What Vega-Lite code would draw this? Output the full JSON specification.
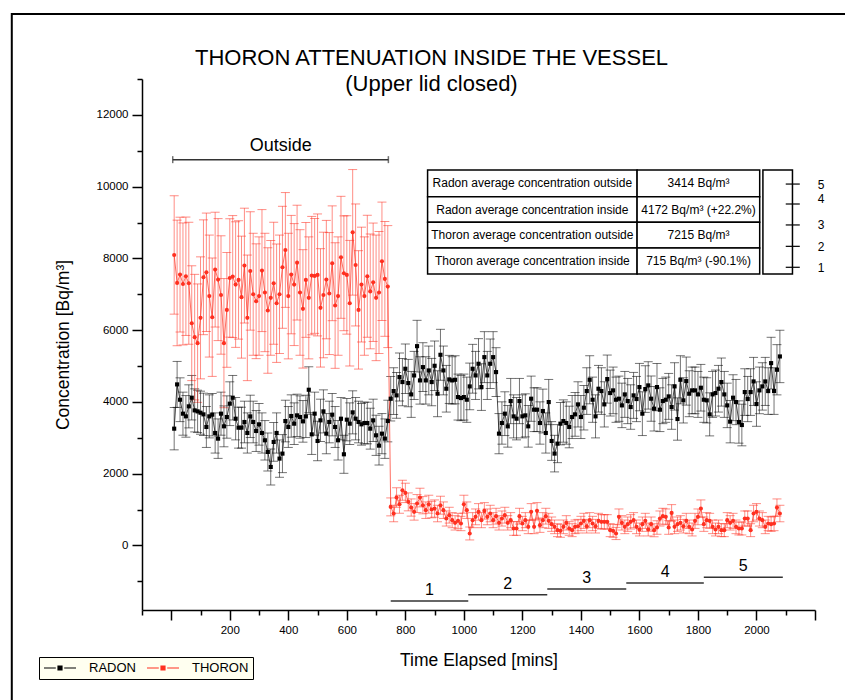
{
"$schema":"https://vega.github.io/schema/vega-lite/v6.json",
"width":673,"height":531,
"autosize":{"type":"none"},
"padding":{"left":142,"top":79,"right":30,"bottom":90},
"background":"white",
"config":{"view":{"stroke":null},
"font":"Liberation Sans",
"axis":{"domainColor":"black","domainWidth":1.5,"tickColor":"black","tickWidth":1.5,"labelFont":"Liberation Sans","labelFontSize":11.5,"labelColor":"black","titleFont":"Liberation Sans","titleFontSize":17.5,"titleFontWeight":"normal","titleColor":"black","grid":false}},
"title":{"text":"THORON ATTENUATION INSIDE THE VESSEL","subtitle":"\u00a0\u00a0\u00a0\u00a0\u00a0\u00a0\u00a0\u00a0(Upper lid closed)","anchor":"middle","frame":"group","dx":-47,"offset":-83,"fontSize":22,"subtitleFontSize":22,"font":"Liberation Sans","subtitleFont":"Liberation Sans","fontWeight":"normal","color":"black","subtitleColor":"black","subtitlePadding":4},
"resolve":{"axis":{"x":"independent","y":"independent"}},
"datasets":{
"series":[
{"t":10,"s":"RADON","v":3254,"e":590},{"t":20,"s":"RADON","v":4488,"e":640},{"t":30,"s":"RADON","v":4061,"e":610},{"t":40,"s":"RADON","v":3672,"e":600},{"t":50,"s":"RADON","v":3597,"e":580},{"t":60,"s":"RADON","v":3876,"e":600},{"t":70,"s":"RADON","v":4117,"e":620},{"t":80,"s":"RADON","v":3764,"e":600},{"t":90,"s":"RADON","v":3736,"e":590},{"t":100,"s":"RADON","v":3699,"e":600},
{"t":110,"s":"RADON","v":3653,"e":590},{"t":120,"s":"RADON","v":3301,"e":570},{"t":130,"s":"RADON","v":3597,"e":600},{"t":140,"s":"RADON","v":3644,"e":590},{"t":150,"s":"RADON","v":3134,"e":560},{"t":160,"s":"RADON","v":2976,"e":550},{"t":170,"s":"RADON","v":3672,"e":600},{"t":180,"s":"RADON","v":3319,"e":570},{"t":190,"s":"RADON","v":3579,"e":590},{"t":200,"s":"RADON","v":3950,"e":610},
{"t":210,"s":"RADON","v":4117,"e":620},{"t":220,"s":"RADON","v":3532,"e":590},{"t":230,"s":"RADON","v":3282,"e":570},{"t":240,"s":"RADON","v":3282,"e":570},{"t":250,"s":"RADON","v":3440,"e":580},{"t":260,"s":"RADON","v":3134,"e":560},{"t":270,"s":"RADON","v":3597,"e":590},{"t":280,"s":"RADON","v":3440,"e":580},{"t":290,"s":"RADON","v":3189,"e":570},{"t":300,"s":"RADON","v":3375,"e":580},
{"t":310,"s":"RADON","v":3134,"e":560},{"t":320,"s":"RADON","v":2930,"e":550},{"t":330,"s":"RADON","v":2605,"e":530},{"t":340,"s":"RADON","v":2187,"e":500},{"t":350,"s":"RADON","v":2883,"e":540},{"t":360,"s":"RADON","v":3134,"e":560},{"t":370,"s":"RADON","v":2419,"e":520},{"t":380,"s":"RADON","v":2559,"e":530},{"t":390,"s":"RADON","v":3467,"e":580},{"t":400,"s":"RADON","v":3301,"e":570},
{"t":410,"s":"RADON","v":3607,"e":590},{"t":420,"s":"RADON","v":3393,"e":580},{"t":430,"s":"RADON","v":3625,"e":590},{"t":440,"s":"RADON","v":3579,"e":590},{"t":450,"s":"RADON","v":3458,"e":580},{"t":460,"s":"RADON","v":3597,"e":590},{"t":470,"s":"RADON","v":4339,"e":640},{"t":480,"s":"RADON","v":3096,"e":560},{"t":490,"s":"RADON","v":3672,"e":600},{"t":500,"s":"RADON","v":2911,"e":550},
{"t":510,"s":"RADON","v":3486,"e":590},{"t":520,"s":"RADON","v":3736,"e":600},{"t":530,"s":"RADON","v":3115,"e":560},{"t":540,"s":"RADON","v":3440,"e":580},{"t":550,"s":"RADON","v":3644,"e":590},{"t":560,"s":"RADON","v":3301,"e":570},{"t":570,"s":"RADON","v":2930,"e":550},{"t":580,"s":"RADON","v":3532,"e":590},{"t":590,"s":"RADON","v":2540,"e":530},{"t":600,"s":"RADON","v":3505,"e":590},
{"t":610,"s":"RADON","v":3393,"e":580},{"t":620,"s":"RADON","v":3709,"e":600},{"t":630,"s":"RADON","v":3532,"e":590},{"t":640,"s":"RADON","v":3440,"e":580},{"t":650,"s":"RADON","v":3375,"e":580},{"t":660,"s":"RADON","v":3412,"e":580},{"t":670,"s":"RADON","v":3412,"e":580},{"t":680,"s":"RADON","v":3254,"e":570},{"t":690,"s":"RADON","v":3486,"e":590},{"t":700,"s":"RADON","v":3069,"e":560},
{"t":710,"s":"RADON","v":2781,"e":540},{"t":720,"s":"RADON","v":3115,"e":560},{"t":730,"s":"RADON","v":2976,"e":550},{"t":740,"s":"RADON","v":3467,"e":580},
{"t":750,"s":"RADON","v":4089,"e":620},{"t":760,"s":"RADON","v":4302,"e":650},{"t":770,"s":"RADON","v":4182,"e":640},{"t":780,"s":"RADON","v":4692,"e":670},{"t":790,"s":"RADON","v":4553,"e":660},{"t":800,"s":"RADON","v":4924,"e":690},{"t":810,"s":"RADON","v":4525,"e":660},{"t":820,"s":"RADON","v":4209,"e":640},{"t":830,"s":"RADON","v":4738,"e":670},{"t":840,"s":"RADON","v":5554,"e":720},
{"t":850,"s":"RADON","v":4599,"e":660},{"t":860,"s":"RADON","v":4970,"e":680},{"t":870,"s":"RADON","v":4599,"e":660},{"t":880,"s":"RADON","v":4877,"e":680},{"t":890,"s":"RADON","v":4553,"e":660},{"t":900,"s":"RADON","v":5007,"e":690},{"t":910,"s":"RADON","v":4228,"e":640},{"t":920,"s":"RADON","v":5313,"e":710},{"t":930,"s":"RADON","v":4877,"e":680},{"t":940,"s":"RADON","v":4367,"e":650},
{"t":950,"s":"RADON","v":4627,"e":670},{"t":960,"s":"RADON","v":4599,"e":660},{"t":970,"s":"RADON","v":4617,"e":670},{"t":980,"s":"RADON","v":4135,"e":640},{"t":990,"s":"RADON","v":4107,"e":630},{"t":1000,"s":"RADON","v":4135,"e":640},{"t":1010,"s":"RADON","v":4061,"e":630},{"t":1020,"s":"RADON","v":4432,"e":650},{"t":1030,"s":"RADON","v":4924,"e":680},{"t":1040,"s":"RADON","v":4738,"e":670},
{"t":1050,"s":"RADON","v":5063,"e":700},{"t":1060,"s":"RADON","v":4413,"e":650},{"t":1070,"s":"RADON","v":5248,"e":710},{"t":1080,"s":"RADON","v":4738,"e":670},{"t":1090,"s":"RADON","v":5063,"e":690},{"t":1100,"s":"RADON","v":5248,"e":710},{"t":1110,"s":"RADON","v":4831,"e":680},
{"t":1120,"s":"RADON","v":3115,"e":560},{"t":1130,"s":"RADON","v":3412,"e":590},{"t":1140,"s":"RADON","v":3672,"e":610},{"t":1150,"s":"RADON","v":3319,"e":580},{"t":1160,"s":"RADON","v":4024,"e":630},{"t":1170,"s":"RADON","v":3597,"e":600},{"t":1180,"s":"RADON","v":3532,"e":590},{"t":1190,"s":"RADON","v":4024,"e":630},{"t":1200,"s":"RADON","v":3597,"e":600},{"t":1210,"s":"RADON","v":3625,"e":600},
{"t":1220,"s":"RADON","v":3319,"e":580},{"t":1230,"s":"RADON","v":4089,"e":630},{"t":1240,"s":"RADON","v":3783,"e":610},{"t":1250,"s":"RADON","v":3783,"e":610},{"t":1260,"s":"RADON","v":3412,"e":590},{"t":1270,"s":"RADON","v":3746,"e":610},{"t":1280,"s":"RADON","v":3134,"e":560},{"t":1290,"s":"RADON","v":3996,"e":630},{"t":1300,"s":"RADON","v":2911,"e":540},{"t":1310,"s":"RADON","v":2559,"e":510},
{"t":1320,"s":"RADON","v":2837,"e":530},{"t":1330,"s":"RADON","v":3393,"e":590},{"t":1340,"s":"RADON","v":3467,"e":590},{"t":1350,"s":"RADON","v":3412,"e":590},{"t":1360,"s":"RADON","v":3301,"e":580},{"t":1370,"s":"RADON","v":3579,"e":600},{"t":1380,"s":"RADON","v":3653,"e":610},{"t":1390,"s":"RADON","v":3931,"e":630},{"t":1400,"s":"RADON","v":3579,"e":600},{"t":1410,"s":"RADON","v":3838,"e":620},
{"t":1420,"s":"RADON","v":4302,"e":650},{"t":1430,"s":"RADON","v":4617,"e":670},{"t":1440,"s":"RADON","v":4061,"e":630},{"t":1450,"s":"RADON","v":3597,"e":600},{"t":1460,"s":"RADON","v":4367,"e":650},{"t":1470,"s":"RADON","v":4302,"e":650},{"t":1480,"s":"RADON","v":3931,"e":630},{"t":1490,"s":"RADON","v":4636,"e":670},{"t":1500,"s":"RADON","v":4247,"e":640},{"t":1510,"s":"RADON","v":4321,"e":650},
{"t":1520,"s":"RADON","v":4061,"e":630},{"t":1530,"s":"RADON","v":4089,"e":630},{"t":1540,"s":"RADON","v":3903,"e":620},{"t":1550,"s":"RADON","v":4209,"e":640},{"t":1560,"s":"RADON","v":4024,"e":630},{"t":1570,"s":"RADON","v":3857,"e":620},{"t":1580,"s":"RADON","v":4182,"e":640},{"t":1590,"s":"RADON","v":4080,"e":630},{"t":1600,"s":"RADON","v":4413,"e":660},{"t":1610,"s":"RADON","v":3672,"e":610},
{"t":1620,"s":"RADON","v":4358,"e":650},{"t":1630,"s":"RADON","v":4460,"e":660},{"t":1640,"s":"RADON","v":4089,"e":630},{"t":1650,"s":"RADON","v":3811,"e":620},{"t":1660,"s":"RADON","v":4413,"e":660},{"t":1670,"s":"RADON","v":3783,"e":610},{"t":1680,"s":"RADON","v":4024,"e":630},{"t":1690,"s":"RADON","v":4061,"e":630},{"t":1700,"s":"RADON","v":4154,"e":640},{"t":1710,"s":"RADON","v":3857,"e":620},
{"t":1720,"s":"RADON","v":4432,"e":660},{"t":1730,"s":"RADON","v":3523,"e":590},{"t":1740,"s":"RADON","v":4617,"e":670},{"t":1750,"s":"RADON","v":4043,"e":630},{"t":1760,"s":"RADON","v":4580,"e":670},{"t":1770,"s":"RADON","v":4228,"e":640},{"t":1780,"s":"RADON","v":4321,"e":650},{"t":1790,"s":"RADON","v":4321,"e":650},{"t":1800,"s":"RADON","v":4209,"e":640},{"t":1810,"s":"RADON","v":4395,"e":650},
{"t":1820,"s":"RADON","v":4061,"e":630},{"t":1830,"s":"RADON","v":4043,"e":630},{"t":1840,"s":"RADON","v":3653,"e":600},{"t":1850,"s":"RADON","v":4209,"e":640},{"t":1860,"s":"RADON","v":4247,"e":640},{"t":1870,"s":"RADON","v":4367,"e":650},{"t":1880,"s":"RADON","v":4553,"e":670},{"t":1890,"s":"RADON","v":4209,"e":640},{"t":1900,"s":"RADON","v":3903,"e":620},{"t":1910,"s":"RADON","v":3449,"e":590},
{"t":1920,"s":"RADON","v":4117,"e":640},{"t":1930,"s":"RADON","v":3996,"e":630},{"t":1940,"s":"RADON","v":3440,"e":590},{"t":1950,"s":"RADON","v":3356,"e":580},{"t":1960,"s":"RADON","v":4274,"e":650},{"t":1970,"s":"RADON","v":4080,"e":630},{"t":1980,"s":"RADON","v":4274,"e":650},{"t":1990,"s":"RADON","v":4571,"e":670},{"t":2000,"s":"RADON","v":3940,"e":620},{"t":2010,"s":"RADON","v":4321,"e":650},
{"t":2020,"s":"RADON","v":4432,"e":660},{"t":2030,"s":"RADON","v":4571,"e":670},{"t":2040,"s":"RADON","v":4302,"e":650},{"t":2050,"s":"RADON","v":5081,"e":720},{"t":2060,"s":"RADON","v":4302,"e":650},{"t":2070,"s":"RADON","v":4896,"e":700},{"t":2080,"s":"RADON","v":5267,"e":730},
{"t":10,"s":"THORON","v":8096,"e":1650},{"t":20,"s":"THORON","v":7316,"e":1750},{"t":30,"s":"THORON","v":7548,"e":1600},{"t":40,"s":"THORON","v":7288,"e":1700},{"t":50,"s":"THORON","v":7502,"e":1650},{"t":60,"s":"THORON","v":7307,"e":1700},{"t":70,"s":"THORON","v":6194,"e":1600},{"t":80,"s":"THORON","v":5805,"e":1750},{"t":90,"s":"THORON","v":5638,"e":1650},{"t":100,"s":"THORON","v":6343,"e":1700},
{"t":110,"s":"THORON","v":7474,"e":1600},{"t":120,"s":"THORON","v":7613,"e":1650},{"t":130,"s":"THORON","v":6950,"e":1700},{"t":140,"s":"THORON","v":6361,"e":1650},{"t":150,"s":"THORON","v":7687,"e":1600},{"t":160,"s":"THORON","v":7409,"e":1700},{"t":170,"s":"THORON","v":6980,"e":1650},{"t":180,"s":"THORON","v":5638,"e":1800},{"t":190,"s":"THORON","v":6565,"e":1600},{"t":200,"s":"THORON","v":7455,"e":1650},
{"t":210,"s":"THORON","v":7493,"e":1700},{"t":220,"s":"THORON","v":7270,"e":1750},{"t":230,"s":"THORON","v":7400,"e":1650},{"t":240,"s":"THORON","v":6920,"e":1700},{"t":250,"s":"THORON","v":7799,"e":1600},{"t":260,"s":"THORON","v":6343,"e":1750},{"t":270,"s":"THORON","v":7650,"e":1650},{"t":280,"s":"THORON","v":7000,"e":1700},{"t":290,"s":"THORON","v":6806,"e":1600},{"t":300,"s":"THORON","v":6950,"e":1650},
{"t":310,"s":"THORON","v":7660,"e":1700},{"t":320,"s":"THORON","v":7050,"e":1650},{"t":330,"s":"THORON","v":6547,"e":1750},{"t":340,"s":"THORON","v":6900,"e":1600},{"t":350,"s":"THORON","v":7307,"e":1700},{"t":360,"s":"THORON","v":6751,"e":1650},{"t":370,"s":"THORON","v":7000,"e":1650},{"t":380,"s":"THORON","v":7752,"e":1700},{"t":390,"s":"THORON","v":8235,"e":1600},{"t":400,"s":"THORON","v":6950,"e":1750},
{"t":410,"s":"THORON","v":7548,"e":1650},{"t":420,"s":"THORON","v":7270,"e":1700},{"t":430,"s":"THORON","v":7882,"e":1600},{"t":440,"s":"THORON","v":7050,"e":1750},{"t":450,"s":"THORON","v":6593,"e":1650},{"t":460,"s":"THORON","v":7400,"e":1600},{"t":470,"s":"THORON","v":6900,"e":1700},{"t":480,"s":"THORON","v":7520,"e":1650},{"t":490,"s":"THORON","v":7511,"e":1600},{"t":500,"s":"THORON","v":7539,"e":1700},
{"t":510,"s":"THORON","v":6621,"e":1650},{"t":520,"s":"THORON","v":6980,"e":1750},{"t":530,"s":"THORON","v":7409,"e":1650},{"t":540,"s":"THORON","v":7020,"e":1700},{"t":550,"s":"THORON","v":7864,"e":1600},{"t":560,"s":"THORON","v":6686,"e":1750},{"t":570,"s":"THORON","v":6950,"e":1650},{"t":580,"s":"THORON","v":8030,"e":1700},{"t":590,"s":"THORON","v":7585,"e":1600},{"t":600,"s":"THORON","v":7539,"e":1650},
{"t":610,"s":"THORON","v":6751,"e":1750},{"t":620,"s":"THORON","v":8726,"e":1750},{"t":630,"s":"THORON","v":7817,"e":1700},{"t":640,"s":"THORON","v":6565,"e":1650},{"t":650,"s":"THORON","v":7270,"e":1600},{"t":660,"s":"THORON","v":6950,"e":1650},{"t":670,"s":"THORON","v":7502,"e":1700},{"t":680,"s":"THORON","v":7080,"e":1600},{"t":690,"s":"THORON","v":7335,"e":1650},{"t":700,"s":"THORON","v":6900,"e":1750},
{"t":710,"s":"THORON","v":7050,"e":1700},{"t":720,"s":"THORON","v":7919,"e":1650},{"t":730,"s":"THORON","v":7428,"e":1600},{"t":740,"s":"THORON","v":7214,"e":1700},
{"t":750,"s":"THORON","v":1074,"e":250},{"t":760,"s":"THORON","v":889,"e":230},{"t":770,"s":"THORON","v":1334,"e":270},{"t":780,"s":"THORON","v":1149,"e":250},{"t":790,"s":"THORON","v":1538,"e":280},{"t":800,"s":"THORON","v":1464,"e":270},{"t":810,"s":"THORON","v":1214,"e":250},{"t":820,"s":"THORON","v":1056,"e":240},{"t":830,"s":"THORON","v":935,"e":230},{"t":840,"s":"THORON","v":1167,"e":250},
{"t":850,"s":"THORON","v":1334,"e":260},{"t":860,"s":"THORON","v":1121,"e":240},{"t":870,"s":"THORON","v":982,"e":230},{"t":880,"s":"THORON","v":1149,"e":250},{"t":890,"s":"THORON","v":1000,"e":230},{"t":900,"s":"THORON","v":1028,"e":240},{"t":910,"s":"THORON","v":889,"e":230},{"t":920,"s":"THORON","v":1121,"e":250},{"t":930,"s":"THORON","v":982,"e":230},{"t":940,"s":"THORON","v":750,"e":210},
{"t":950,"s":"THORON","v":843,"e":220},{"t":960,"s":"THORON","v":704,"e":210},{"t":970,"s":"THORON","v":629,"e":200},{"t":980,"s":"THORON","v":685,"e":210},{"t":990,"s":"THORON","v":611,"e":200},{"t":1000,"s":"THORON","v":1149,"e":250},{"t":1010,"s":"THORON","v":982,"e":230},{"t":1020,"s":"THORON","v":333,"e":180},{"t":1030,"s":"THORON","v":704,"e":210},{"t":1040,"s":"THORON","v":796,"e":220},
{"t":1050,"s":"THORON","v":935,"e":230},{"t":1060,"s":"THORON","v":704,"e":210},{"t":1070,"s":"THORON","v":963,"e":230},{"t":1080,"s":"THORON","v":796,"e":220},{"t":1090,"s":"THORON","v":889,"e":230},{"t":1100,"s":"THORON","v":704,"e":210},{"t":1110,"s":"THORON","v":815,"e":220},
{"t":1120,"s":"THORON","v":629,"e":200},{"t":1130,"s":"THORON","v":750,"e":210},{"t":1140,"s":"THORON","v":843,"e":220},{"t":1150,"s":"THORON","v":629,"e":200},{"t":1160,"s":"THORON","v":704,"e":210},{"t":1170,"s":"THORON","v":472,"e":190},{"t":1180,"s":"THORON","v":472,"e":190},{"t":1190,"s":"THORON","v":815,"e":220},{"t":1200,"s":"THORON","v":611,"e":200},{"t":1210,"s":"THORON","v":704,"e":210},
{"t":1220,"s":"THORON","v":518,"e":190},{"t":1230,"s":"THORON","v":935,"e":230},{"t":1240,"s":"THORON","v":518,"e":190},{"t":1250,"s":"THORON","v":963,"e":230},{"t":1260,"s":"THORON","v":564,"e":200},{"t":1270,"s":"THORON","v":704,"e":210},{"t":1280,"s":"THORON","v":815,"e":220},{"t":1290,"s":"THORON","v":685,"e":210},{"t":1300,"s":"THORON","v":592,"e":200},{"t":1310,"s":"THORON","v":518,"e":190},
{"t":1320,"s":"THORON","v":425,"e":180},{"t":1330,"s":"THORON","v":407,"e":180},{"t":1340,"s":"THORON","v":518,"e":190},{"t":1350,"s":"THORON","v":629,"e":200},{"t":1360,"s":"THORON","v":472,"e":190},{"t":1370,"s":"THORON","v":425,"e":180},{"t":1380,"s":"THORON","v":518,"e":190},{"t":1390,"s":"THORON","v":536,"e":190},{"t":1400,"s":"THORON","v":611,"e":200},{"t":1410,"s":"THORON","v":685,"e":210},
{"t":1420,"s":"THORON","v":536,"e":190},{"t":1430,"s":"THORON","v":704,"e":210},{"t":1440,"s":"THORON","v":611,"e":200},{"t":1450,"s":"THORON","v":536,"e":190},{"t":1460,"s":"THORON","v":685,"e":210},{"t":1470,"s":"THORON","v":657,"e":200},{"t":1480,"s":"THORON","v":657,"e":200},{"t":1490,"s":"THORON","v":657,"e":200},{"t":1500,"s":"THORON","v":425,"e":180},{"t":1510,"s":"THORON","v":407,"e":180},
{"t":1520,"s":"THORON","v":333,"e":170},{"t":1530,"s":"THORON","v":796,"e":220},{"t":1540,"s":"THORON","v":629,"e":200},{"t":1550,"s":"THORON","v":518,"e":190},{"t":1560,"s":"THORON","v":592,"e":200},{"t":1570,"s":"THORON","v":657,"e":200},{"t":1580,"s":"THORON","v":704,"e":210},{"t":1590,"s":"THORON","v":518,"e":190},{"t":1600,"s":"THORON","v":444,"e":180},{"t":1610,"s":"THORON","v":592,"e":200},
{"t":1620,"s":"THORON","v":685,"e":210},{"t":1630,"s":"THORON","v":444,"e":180},{"t":1640,"s":"THORON","v":592,"e":200},{"t":1650,"s":"THORON","v":425,"e":180},{"t":1660,"s":"THORON","v":500,"e":190},{"t":1670,"s":"THORON","v":750,"e":210},{"t":1680,"s":"THORON","v":815,"e":220},{"t":1690,"s":"THORON","v":796,"e":220},{"t":1700,"s":"THORON","v":500,"e":190},{"t":1710,"s":"THORON","v":907,"e":230},
{"t":1720,"s":"THORON","v":518,"e":190},{"t":1730,"s":"THORON","v":592,"e":200},{"t":1740,"s":"THORON","v":629,"e":200},{"t":1750,"s":"THORON","v":536,"e":190},{"t":1760,"s":"THORON","v":685,"e":210},{"t":1770,"s":"THORON","v":518,"e":190},{"t":1780,"s":"THORON","v":444,"e":180},{"t":1790,"s":"THORON","v":685,"e":210},{"t":1800,"s":"THORON","v":796,"e":220},{"t":1810,"s":"THORON","v":1028,"e":240},
{"t":1820,"s":"THORON","v":592,"e":200},{"t":1830,"s":"THORON","v":704,"e":210},{"t":1840,"s":"THORON","v":685,"e":210},{"t":1850,"s":"THORON","v":518,"e":190},{"t":1860,"s":"THORON","v":444,"e":180},{"t":1870,"s":"THORON","v":518,"e":190},{"t":1880,"s":"THORON","v":425,"e":180},{"t":1890,"s":"THORON","v":425,"e":180},{"t":1900,"s":"THORON","v":704,"e":210},{"t":1910,"s":"THORON","v":629,"e":200},
{"t":1920,"s":"THORON","v":685,"e":210},{"t":1930,"s":"THORON","v":518,"e":190},{"t":1940,"s":"THORON","v":472,"e":180},{"t":1950,"s":"THORON","v":472,"e":180},{"t":1960,"s":"THORON","v":750,"e":210},{"t":1970,"s":"THORON","v":750,"e":210},{"t":1980,"s":"THORON","v":425,"e":180},{"t":1990,"s":"THORON","v":889,"e":230},{"t":2000,"s":"THORON","v":935,"e":230},{"t":2010,"s":"THORON","v":750,"e":210},
{"t":2020,"s":"THORON","v":704,"e":210},{"t":2030,"s":"THORON","v":518,"e":190},{"t":2040,"s":"THORON","v":611,"e":200},{"t":2050,"s":"THORON","v":592,"e":200},{"t":2060,"s":"THORON","v":611,"e":200},{"t":2070,"s":"THORON","v":1056,"e":240},{"t":2080,"s":"THORON","v":889,"e":230}
],
"outside":[{"t":5,"y":10752,"label":"Outside","m":374},{"t":742,"y":10752,"label":"Outside","m":374}],
"segs":[{"n":"1","a":750,"b":1015,"m":882,"y":-1550},{"n":"2","a":1015,"b":1285,"m":1150,"y":-1375},{"n":"3","a":1285,"b":1555,"m":1420,"y":-1216},{"n":"4","a":1555,"b":1820,"m":1688,"y":-1049},{"n":"5","a":1820,"b":2090,"m":1955,"y":-890}],
"table":[
{"x1":876,"x2":1592,"y1":10462,"y2":9719,"cx":1234,"cy":10090,"txt":"Radon average concentration outside"},
{"x1":1592,"x2":2011,"y1":10462,"y2":9719,"cx":1802,"cy":10090,"txt":"3414 Bq/m³"},
{"x1":876,"x2":1592,"y1":9719,"y2":9004,"cx":1234,"cy":9362,"txt":"Radon average concentration inside"},
{"x1":1592,"x2":2011,"y1":9719,"y2":9004,"cx":1802,"cy":9362,"txt":"4172 Bq/m³ (+22.2%)"},
{"x1":876,"x2":1592,"y1":9004,"y2":8292,"cx":1234,"cy":8648,"txt":"Thoron average concentration outside"},
{"x1":1592,"x2":2011,"y1":9004,"y2":8292,"cx":1802,"cy":8648,"txt":"7215 Bq/m³"},
{"x1":876,"x2":1592,"y1":8292,"y2":7568,"cx":1234,"cy":7930,"txt":"Thoron average concentration inside"},
{"x1":1592,"x2":2011,"y1":8292,"y2":7568,"cx":1802,"cy":7930,"txt":"715 Bq/m³ (-90.1%)"}],
"mini":[{"x1":2022,"x2":2123,"y1":10462,"y2":7568}],
"miniTicks":[{"n":"5","a":2100,"b":2148,"y":10072,"ly":10033,"lx":2209},{"n":"4","a":2100,"b":2148,"y":9516,"ly":9663,"lx":2209},{"n":"3","a":2100,"b":2148,"y":8932,"ly":8940,"lx":2209},{"n":"2","a":2100,"b":2148,"y":8336,"ly":8328,"lx":2209},{"n":"1","a":2100,"b":2148,"y":7752,"ly":7743,"lx":2209}]
},
"layer":[
{"data":{"values":[{}]},"mark":{"type":"rect","filled":false,"stroke":"black","strokeWidth":2,"clip":false},
 "encoding":{"x":{"datum":-545,"type":"quantitative","scale":{"domain":[-100,2200],"nice":false,"zero":false},"axis":{"orient":"bottom","values":[-100,100,300,500,700,900,1100,1300,1500,1700,1900,2100],"tickSize":5,"labels":false,"domain":false,"title":null}},"x2":{"datum":2800},
 "y":{"datum":14811,"type":"quantitative","scale":{"domain":[-1800,13000],"nice":false,"zero":false},"axis":{"orient":"left","values":[-1000,1000,3000,5000,7000,9000,11000,13000],"tickSize":5,"labels":false,"domain":false,"title":null}},"y2":{"datum":-6000}}},
{"data":{"name":"series"},
 "encoding":{
  "x":{"field":"t","type":"quantitative","scale":{"domain":[-100,2200],"nice":false,"zero":false},
   "axis":{"orient":"bottom","title":"Time Elapsed [mins]","values":[0,200,400,600,800,1000,1200,1400,1600,1800,2000,2200],"labelExpr":"datum.value>=200 && datum.value<=2000 ? datum.label : ''","format":"d","tickSize":10,"labelPadding":4,"titlePadding":16,"labelFlush":false,"labelOverlap":false}},
  "y":{"field":"v","type":"quantitative","scale":{"domain":[-1800,13000],"nice":false,"zero":false},
   "axis":{"orient":"left","title":"Concentration [Bq/m³]","values":[0,2000,4000,6000,8000,10000,12000],"format":"d","tickSize":10,"labelPadding":4,"titlePadding":24,"labelOverlap":false}}
 },
 "layer":[
  {"mark":{"type":"errorbar","ticks":true,"size":9,"thickness":1,"opacity":0.55},"encoding":{"yError":{"field":"e"},
    "color":{"field":"s","type":"nominal","scale":{"domain":["RADON","THORON"],"range":["#000000","#FF3020"]},
   "legend":{"title":null,"orient":"none","legendX":-103,"legendY":578,"direction":"horizontal","fillColor":"#FFFFF0","strokeColor":"black","padding":4,"symbolType":"M-2.67,0H-0.7M0.7,0H2.67M-0.33,-0.33H0.33V0.33H-0.33Z","symbolSize":144,"symbolOffset":10,"labelOffset":22,"labelFontSize":13,"labelFont":"Liberation Sans","labelColor":"black","columnPadding":8,"symbolStrokeWidth":1.2,"symbolOpacity":1}}}},
  {"mark":{"type":"line","strokeWidth":1,"opacity":0.7},"encoding":{"color":{"field":"s","type":"nominal","scale":{"domain":["RADON","THORON"],"range":["#000000","#FF3020"]},
   "legend":{"title":null,"orient":"none","legendX":-103,"legendY":578,"direction":"horizontal","fillColor":"#FFFFF0","strokeColor":"black","padding":4,"symbolType":"M-2.67,0H-0.7M0.7,0H2.67M-0.33,-0.33H0.33V0.33H-0.33Z","symbolSize":144,"symbolOffset":10,"labelOffset":22,"labelFontSize":13,"labelFont":"Liberation Sans","labelColor":"black","columnPadding":8,"symbolStrokeWidth":1.2,"symbolOpacity":1}}}},
  {"transform":[{"filter":"datum.s === 'RADON'"}],"mark":{"type":"point","filled":true,"shape":"square","color":"#000000","size":17,"opacity":1,"strokeWidth":0}},
  {"transform":[{"filter":"datum.s === 'THORON'"}],"mark":{"type":"point","filled":true,"shape":"circle","color":"#FF3020","size":17,"opacity":1,"strokeWidth":0}}
 ]},
{"data":{"name":"outside"},"mark":{"type":"line","color":"#333333","strokeWidth":1.5},"encoding":{"x":{"field":"t","type":"quantitative","axis":null},"y":{"field":"y","type":"quantitative","axis":null}}},
{"data":{"name":"outside"},"mark":{"type":"tick","orient":"vertical","color":"#333333","size":7,"thickness":1.5},"encoding":{"x":{"field":"t","type":"quantitative","axis":null},"y":{"field":"y","type":"quantitative","axis":null}}},
{"data":{"name":"outside"},"transform":[{"filter":"datum.t > 100"}],"mark":{"type":"text","fontSize":18,"font":"Liberation Sans","color":"black","baseline":"alphabetic","dy":-9},"encoding":{"x":{"field":"m","type":"quantitative","axis":null},"y":{"field":"y","type":"quantitative","axis":null},"text":{"field":"label"}}},
{"data":{"name":"segs"},"mark":{"type":"rule","color":"#333333","strokeWidth":1.5},"encoding":{"x":{"field":"a","type":"quantitative","axis":null},"x2":{"field":"b"},"y":{"field":"y","type":"quantitative","axis":null}}},
{"data":{"name":"segs"},"mark":{"type":"text","fontSize":16,"font":"Liberation Sans","color":"black","baseline":"alphabetic","dy":-6},"encoding":{"x":{"field":"m","type":"quantitative","axis":null},"y":{"field":"y","type":"quantitative","axis":null},"text":{"field":"n"}}},
{"data":{"name":"table"},"mark":{"type":"rect","fill":"white","stroke":"black","strokeWidth":1.5},"encoding":{"x":{"field":"x1","type":"quantitative","axis":null},"x2":{"field":"x2"},"y":{"field":"y1","type":"quantitative","axis":null},"y2":{"field":"y2"}}},
{"data":{"name":"table"},"mark":{"type":"text","fontSize":12,"font":"Liberation Sans","color":"black","baseline":"middle","align":"center"},"encoding":{"x":{"field":"cx","type":"quantitative","axis":null},"y":{"field":"cy","type":"quantitative","axis":null},"text":{"field":"txt"}}},
{"data":{"name":"mini"},"mark":{"type":"rect","fill":"white","stroke":"black","strokeWidth":1.5,"clip":false},"encoding":{"x":{"field":"x1","type":"quantitative","axis":null},"x2":{"field":"x2"},"y":{"field":"y1","type":"quantitative","axis":null},"y2":{"field":"y2"}}},
{"data":{"name":"miniTicks"},"mark":{"type":"rule","color":"black","strokeWidth":1.2},"encoding":{"x":{"field":"a","type":"quantitative","axis":null},"x2":{"field":"b"},"y":{"field":"y","type":"quantitative","axis":null}}},
{"data":{"name":"miniTicks"},"mark":{"type":"text","fontSize":12,"font":"Liberation Sans","color":"black","baseline":"middle","align":"left"},"encoding":{"x":{"field":"lx","type":"quantitative","axis":null},"y":{"field":"ly","type":"quantitative","axis":null},"text":{"field":"n"}}}
]
}
